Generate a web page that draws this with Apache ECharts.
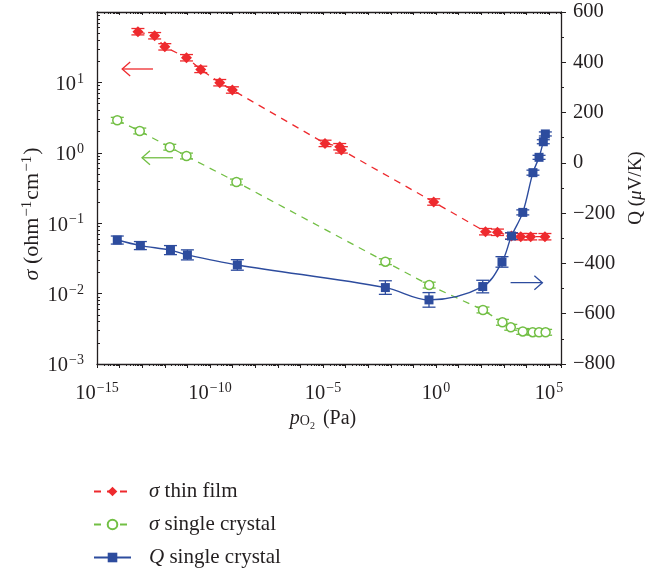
<!DOCTYPE html>
<html>
<head>
<meta charset="utf-8">
<script src="https://cdn.jsdelivr.net/npm/echarts@6/dist/echarts.min.js"></script>
<style>
  html, body { margin: 0; padding: 0; background: #fff; }
  #main { width: 658px; height: 575px; }
</style>
</head>
<body>
<div id="main"></div>
<script>
// pO2 (Pa) and values
const redP = [6.46e-14, 3.55e-13, 1.0e-12, 9.1e-12, 3.9e-11, 2.7e-10, 9.8e-10, 1.23e-5, 5.5e-5, 6.5e-5, 0.79, 155, 525, 2190, 5620, 1.55e4, 6.6e4];
const redSigma = [52.5, 46, 32, 22.4, 15.3, 9.9, 7.8, 1.36, 1.22, 1.10, 0.20, 0.0757, 0.0743, 0.0658, 0.0643, 0.0643, 0.0643];
const redErr = [0.11, 0.11, 0.11, 0.11, 0.11, 0.11, 0.11, 0.11, 0.11, 0.11, 0.11, 0.11, 0.11, 0.11, 0.11, 0.11, 0.11];

const greenP = [7.9e-15, 7.8e-14, 1.66e-12, 9.1e-12, 1.48e-9, 5.75e-3, 0.50, 120, 871, 2040, 6920, 1.9e4, 3.63e4, 7.08e4];
const greenSigma = [2.9, 2.04, 1.20, 0.90, 0.385, 0.0284, 0.0132, 0.00585, 0.00391, 0.00332, 0.0029, 0.00283, 0.00282, 0.00282];
const greenErr = [0.1, 0.1, 0.1, 0.1, 0.1, 0.1, 0.1, 0.1, 0.1, 0.1, 0.1, 0.1, 0.1, 0.1];

const blueP = [7.9e-15, 8.3e-14, 1.78e-12, 1.0e-11, 1.62e-9, 5.75e-3, 0.49, 117, 832, 2190, 6920, 1.95e4, 3.63e4, 5.6e4, 6.9e4];
const blueQ = [-307, -329, -347, -366, -406, -496, -545, -492, -394, -291, -197, -39, 22, 84, 115];
const blueErr = [16, 16, 18, 20, 21, 27, 29, 25, 21, 13, 10, 10, 8, 8, 8];

const seriesNames = ['σ thin film', 'σ single crystal', 'Q single crystal'];

// arrows: [pO2 from, pO2 to, sigma]
const arrowRed = [3.0e-13, 1.3e-14, 15.5];
const arrowGreen = [2.3e-12, 9.8e-14, 0.85];
const arrowBlue = [2.0e3, 5.1e4, 0.0143];

const RED = '#ee2a2e', GREEN = '#72bf44', BLUE = '#2d4c9e', INK = '#231f20';
const SERIF = '"Liberation Serif", "DejaVu Serif", serif';

const chart = echarts.init(document.getElementById('main'));

function sup(e) {
  return '{b|10}{s|' + (e < 0 ? '\u2212' + (-e) : e) + '}';
}
const richNum = {
  b: { fontSize: 20.5, fontFamily: SERIF, color: INK, verticalAlign: 'bottom', lineHeight: 25 },
  s: { fontSize: 14, fontFamily: SERIF, color: INK, verticalAlign: 'bottom', padding: [0, 0, 9, 1], lineHeight: 25 }
};

function errorSeries(name, xs, ys, lo, hi, color, yAxisIndex) {
  return {
    type: 'custom', name: name, xAxisIndex: 0, yAxisIndex: yAxisIndex, silent: true, z: 1,
    data: xs.map((x, i) => [x, lo[i], hi[i]]),
    encode: { x: 0, y: [1, 2] },
    renderItem: function (params, api) {
      const a = api.coord([api.value(0), api.value(1)]);
      const b = api.coord([api.value(0), api.value(2)]);
      const w = 6.5;
      const st = { stroke: color, lineWidth: 1.3 };
      return { type: 'group', children: [
        { type: 'line', shape: { x1: a[0], y1: a[1], x2: b[0], y2: b[1] }, style: st },
        { type: 'line', shape: { x1: a[0] - w, y1: a[1], x2: a[0] + w, y2: a[1] }, style: st },
        { type: 'line', shape: { x1: b[0] - w, y1: b[1], x2: b[0] + w, y2: b[1] }, style: st }
      ]};
    }
  };
}

const xCommon = {
  type: 'log', logBase: 10, min: 1e-15, max: 3.4e5, interval: 1,
  splitLine: { show: false },
  axisLine: { onZero: false, lineStyle: { color: INK, width: 1.3 } },
  minorTick: { show: true, splitNumber: 9, length: 2, lineStyle: { color: INK } },
  axisTick: { length: 4, lineStyle: { color: INK } }
};

chart.setOption({
  animation: false,
  backgroundColor: '#fff',
  grid: { left: 97, right: 97, top: 12, bottom: 211 },
  legend: {
    orient: 'vertical', left: 88, top: 475,
    itemWidth: 37, itemHeight: 12, itemGap: 10,
    data: seriesNames,
    formatter: function (n) { return '{i|' + n.charAt(0) + '}' + n.slice(1); },
    textStyle: {
      fontFamily: SERIF, fontSize: 21, color: INK, padding: [0, 0, 0, 13], lineHeight: 23,
      rich: { i: { fontFamily: SERIF, fontSize: 21, fontStyle: 'italic', color: INK } }
    }
  },
  xAxis: [
    Object.assign({}, xCommon, {
      position: 'bottom',
      name: '{i|p}{o|O}{t|2} (Pa)', nameLocation: 'middle', nameGap: 38,
      nameTextStyle: {
        fontFamily: SERIF, fontSize: 20, color: INK, padding: [0, 12, 0, 0],
        rich: {
          i: { fontFamily: SERIF, fontSize: 20, fontStyle: 'italic', color: INK },
          o: { fontFamily: SERIF, fontSize: 14, color: INK, verticalAlign: 'top', padding: [8, 0, 0, 0] },
          t: { fontFamily: SERIF, fontSize: 10, color: INK, verticalAlign: 'top', padding: [15, 3, 0, 0] }
        }
      },
      axisLabel: {
        margin: 15,
        formatter: function (v) {
          const l = Math.log10(v), e = Math.round(l);
          if (Math.abs(l - e) > 0.01 || e % 5 !== 0) return '';
          return sup(e);
        },
        rich: richNum
      }
    }),
    Object.assign({}, xCommon, {
      position: 'top', axisLabel: { show: false },
      axisTick: { inside: true, length: 3, lineStyle: { color: INK } },
      minorTick: { show: true, splitNumber: 9, length: 2, lineStyle: { color: INK } }
    })
  ],
  yAxis: [
    {
      type: 'log', logBase: 10, min: 1e-3, max: 1e2, interval: 1, position: 'left',
      name: '{i|σ} (ohm{s|\u22121}cm{s|\u22121})', nameLocation: 'middle', nameGap: 52, nameRotate: 90,
      nameMoveOverlap: false,
      nameTextStyle: {
        fontFamily: SERIF, fontSize: 22, color: INK, padding: [0, 52, 0, 0],
        rich: {
          i: { fontFamily: SERIF, fontSize: 22, fontStyle: 'italic', color: INK },
          s: { fontFamily: SERIF, fontSize: 15, color: INK, verticalAlign: 'bottom', padding: [0, 1, 10, 1] }
        }
      },
      splitLine: { show: false },
      axisLine: { show: true, lineStyle: { color: INK, width: 1.3 } },
      axisTick: { inside: true, length: 5, lineStyle: { color: INK } },
      minorTick: { show: true, splitNumber: 9, length: 3, lineStyle: { color: INK } },
      axisLabel: {
        margin: 13,
        formatter: function (v) {
          const e = Math.round(Math.log10(v));
          return e > 1 ? '' : sup(e);
        },
        rich: richNum
      }
    },
    {
      type: 'value', min: -800, max: 600, interval: 200, position: 'right',
      name: 'Q ({m|μ}V/K)', nameLocation: 'middle', nameGap: 64, nameRotate: 90,
      nameTextStyle: {
        fontFamily: SERIF, fontSize: 19, color: INK,
        rich: { m: { fontFamily: SERIF, fontSize: 19, fontStyle: 'italic', color: INK } }
      },
      splitLine: { show: false },
      axisLine: { show: true, lineStyle: { color: INK, width: 1.3 } },
      axisTick: { length: 5, lineStyle: { color: INK } },
      minorTick: { show: true, splitNumber: 2, length: 3, lineStyle: { color: INK } },
      axisLabel: {
        margin: 12, fontFamily: SERIF, fontSize: 20.5, color: INK,
        formatter: function (v) { return v < 0 ? '\u2212' + (-v) : String(v); }
      }
    }
  ],
  series: [
    errorSeries('e1', redP, redSigma, redSigma.map((v, i) => v / (1 + redErr[i])), redSigma.map((v, i) => v * (1 + redErr[i])), RED, 0),
    errorSeries('e2', greenP, greenSigma, greenSigma.map((v, i) => v / (1 + greenErr[i])), greenSigma.map((v, i) => v * (1 + greenErr[i])), GREEN, 0),
    errorSeries('e3', blueP, blueQ, blueQ.map((v, i) => v - blueErr[i]), blueQ.map((v, i) => v + blueErr[i]), BLUE, 1),
    {
      name: seriesNames[0], type: 'line', xAxisIndex: 0, yAxisIndex: 0, z: 3,
      data: redP.map((x, i) => [x, redSigma[i]]),
      symbol: 'diamond', symbolSize: 11,
      itemStyle: { color: RED },
      lineStyle: { color: RED, width: 1.3, type: [7, 6] }
    },
    {
      name: seriesNames[1], type: 'line', xAxisIndex: 0, yAxisIndex: 0, z: 3,
      data: greenP.map((x, i) => [x, greenSigma[i]]),
      symbol: 'circle', symbolSize: 9,
      itemStyle: { color: '#fff', borderColor: GREEN, borderWidth: 1.5 },
      lineStyle: { color: GREEN, width: 1.3, type: [7, 6] }
    },
    {
      name: seriesNames[2], type: 'line', xAxisIndex: 0, yAxisIndex: 1, z: 3,
      data: blueP.map((x, i) => [x, blueQ[i]]),
      smooth: 0.35,
      symbol: 'rect', symbolSize: 9,
      itemStyle: { color: BLUE },
      lineStyle: { color: BLUE, width: 1.4 }
    }
  ]
});

// direction arrows, placed in data coordinates
function arrow(a, color) {
  const p0 = chart.convertToPixel({ xAxisIndex: 0, yAxisIndex: 0 }, [a[0], a[2]]);
  const p1 = chart.convertToPixel({ xAxisIndex: 0, yAxisIndex: 0 }, [a[1], a[2]]);
  const d = p1[0] > p0[0] ? -1 : 1;
  return {
    type: 'group', silent: true, z: 10,
    children: [
      { type: 'line', shape: { x1: p0[0], y1: p0[1], x2: p1[0], y2: p1[1] }, style: { stroke: color, lineWidth: 1.3 } },
      { type: 'polyline', shape: { points: [[p1[0] + d * 8, p1[1] - 7], [p1[0], p1[1]], [p1[0] + d * 8, p1[1] + 7]] },
        style: { stroke: color, lineWidth: 1.3, fill: null } }
    ]
  };
}
chart.setOption({ graphic: [arrow(arrowRed, RED), arrow(arrowGreen, GREEN), arrow(arrowBlue, BLUE)] });
</script>
</body>
</html>
